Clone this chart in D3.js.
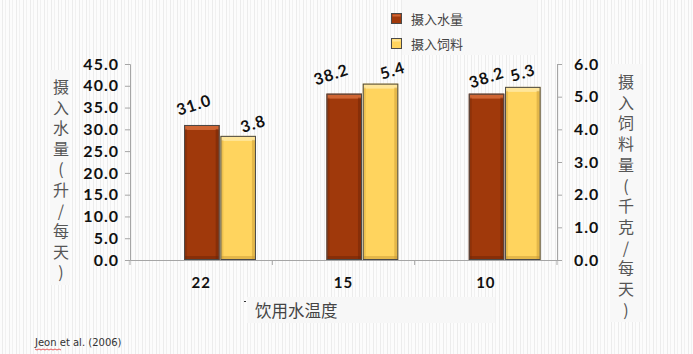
<!DOCTYPE html>
<html><head><meta charset="utf-8">
<script src="https://cdn.jsdelivr.net/npm/d3@7"></script>
<style>
html,body{margin:0;padding:0;background:#fbfbfb;}
svg{display:block;}
</style></head>
<body>
<svg id="c" width="693" height="354"></svg>
<script>
// ---- data ----
const categories = ["22", "15", "10"];
const seriesNames = ["摄入水量", "摄入饲料"];
const waterIntake = [31.0, 38.2, 38.2];   // 升/每天 (left axis)
const feedIntake  = [3.8, 5.4, 5.3];      // 千克/每天 (right axis)
const leftTicks  = [0, 5, 10, 15, 20, 25, 30, 35, 40, 45];
const rightTicks = [0, 1, 2, 3, 4, 5, 6];
const xTitle = "饮用水温度";
const leftTitle = "摄入水量(升/每天)";
const rightTitle = "摄入饲料量(千克/每天)";
const source = "Jeon et al. (2006)";

// ---- layout ----
const svg = d3.select("#c");
const W = 693, H = 354;
const plot = {l:130, r:557, t:64, b:260};
const colors = {
  water:{base:"#a0390b", light:"#cf6533", dark:"#6e2406"},
  feed:{base:"#ffd45e", light:"#ffe69a", dark:"#c99a33"}
};
// label nudges (layout only)
const waterNudge = [-8, -13, 0];
const feedNudge = [15, 12, 0];

// background texture
const defs = svg.append("defs");
const pat = defs.append("pattern").attr("id","tex").attr("patternUnits","userSpaceOnUse")
  .attr("width",7).attr("height",4);
pat.append("rect").attr("width",7).attr("height",4).attr("fill","#fcfcfc");
pat.append("rect").attr("x",2).attr("width",1).attr("height",4).attr("fill","#ececec");
pat.append("rect").attr("x",5).attr("width",1).attr("height",4).attr("fill","#f1f1f1");
svg.append("rect").attr("width",W).attr("height",H).attr("fill","url(#tex)");

const x = d3.scaleBand().domain(categories).range([plot.l, plot.r]);
const bw = x.bandwidth();
const xs = d3.scaleBand().domain(seriesNames).range([bw*0.38, bw*0.885]).paddingInner(0.02);
const yL = d3.scaleLinear().domain([0,45]).range([plot.b, plot.t]);
const yR = d3.scaleLinear().domain([0,6]).range([plot.b, plot.t]);

// light boxes behind titles
svg.append("rect").attr("x",50).attr("y",70).attr("width",20).attr("height",215).attr("fill","#f8f8f8");
svg.append("rect").attr("x",610).attr("y",64).attr("width",32).attr("height",258).attr("fill","#f8f8f8");
svg.append("rect").attr("x",247).attr("y",297).attr("width",248).attr("height",26).attr("fill","#f7f7f7");
svg.append("rect").attr("x",402).attr("y",0).attr("width",135).attr("height",55).attr("fill","#f8f8f8");

const axisColor = "#a6a6a6";
const numFont = "Lato, 'Open Sans', sans-serif";

// left axis
const gL = svg.append("g").attr("transform",`translate(${plot.l},0)`)
  .call(d3.axisLeft(yL).tickValues(leftTicks).tickFormat(d3.format(".1f")).tickSize(5).tickPadding(6));
// right axis
const gR = svg.append("g").attr("transform",`translate(${plot.r},0)`)
  .call(d3.axisRight(yR).tickValues(rightTicks).tickFormat(d3.format(".1f")).tickSize(5).tickPadding(12));
// bottom axis
const gB = svg.append("g").attr("transform",`translate(0,${plot.b})`)
  .call(d3.axisBottom(x).tickSize(0).tickPadding(17));
const edges = categories.map(c=>x(c)).concat([x(categories[categories.length-1])+bw]);
gB.selectAll("line.edge").data(edges).join("line").attr("class","edge")
  .attr("x1",d=>d).attr("x2",d=>d).attr("y1",0).attr("y2",5).attr("stroke",axisColor);

[gL,gR,gB].forEach(g=>{
  g.select(".domain").attr("stroke",axisColor);
  g.selectAll(".tick line").attr("stroke",axisColor);
  g.selectAll(".tick text").attr("fill","#111").style("font-family",numFont)
   .style("font-weight","700").style("font-size","16px").style("letter-spacing","1px");
});
gB.selectAll(".tick text").style("font-size","15px");

// bars
function drawBars(vals, key, yScale, cls){
  const c = colors[key];
  const g = svg.append("g");
  const bars = g.selectAll("g."+cls).data(categories.map((cat,i)=>({cat, v:vals[i], i})))
    .join("g").attr("class",cls);
  const bx = d=>x(d.cat)+xs(key==="water"?seriesNames[0]:seriesNames[1]);
  const w = xs.bandwidth();
  bars.append("rect").attr("x",bx).attr("y",d=>yScale(d.v)).attr("width",w)
    .attr("height",d=>plot.b-yScale(d.v)).attr("fill",c.base);
  bars.append("rect").attr("x",d=>bx(d)+1).attr("y",d=>yScale(d.v)+1).attr("width",w-2).attr("height",4)
    .attr("fill",c.light);
  bars.append("rect").attr("x",d=>bx(d)+w-4).attr("y",d=>yScale(d.v)+4).attr("width",3)
    .attr("height",d=>plot.b-yScale(d.v)-5).attr("fill",c.dark).attr("opacity",0.5);
  bars.append("rect").attr("x",d=>bx(d)+1).attr("y",d=>yScale(d.v)+4).attr("width",2)
    .attr("height",d=>plot.b-yScale(d.v)-5).attr("fill",c.dark).attr("opacity",0.35);
  bars.append("rect").attr("x",d=>bx(d)+1).attr("y",plot.b-4).attr("width",w-2).attr("height",3)
    .attr("fill",c.dark).attr("opacity",0.5);
  bars.append("rect").attr("x",d=>bx(d)+0.5).attr("y",d=>yScale(d.v)+0.5).attr("width",w-1)
    .attr("height",d=>plot.b-yScale(d.v)-1).attr("fill","none").attr("stroke","#4a4a4a").attr("stroke-width",1);
  return {bx, w};
}
const wb = drawBars(waterIntake,"water",yL,"wbar");
const fb = drawBars(feedIntake,"feed",yR,"fbar");

// data labels
function labels(vals, yScale, pos, nudge, up){
  svg.append("g").selectAll("text").data(categories.map((cat,i)=>({cat,v:vals[i],i})))
    .join("text")
    .attr("transform",d=>`translate(${pos.bx(d)+pos.w/2+nudge[d.i]},${yScale(d.v)-up[d.i]}) rotate(-18)`)
    .attr("text-anchor","middle").attr("dy","0.35em")
    .style("font-family",numFont).style("font-weight","700").style("font-size","16px")
    .style("letter-spacing","1px").attr("fill","#111")
    .text(d=>d3.format(".1f")(d.v));
}
labels(waterIntake, yL, wb, waterNudge, [20,19,16]);
labels(feedIntake, yR, fb, feedNudge, [12,13,14]);

// vertical titles (single text, vertical writing mode)
function vtitle(str, cx, yTop, spacing){
  svg.append("text").attr("x",cx).attr("y",yTop)
    .style("writing-mode","vertical-rl").style("text-orientation","upright")
    .style("font-family","'Noto Sans CJK SC', sans-serif").style("font-size","16px")
    .style("letter-spacing",spacing+"px")
    .attr("fill","#555").text(str);
}
vtitle(leftTitle, 61, 79, 4.6);
vtitle(rightTitle, 626, 74, 4.7);

// x title
svg.append("text").attr("x",255).attr("y",311).attr("dy","0.35em")
  .style("font-family","'Noto Sans CJK SC', sans-serif").style("font-size","16.5px")
  .attr("fill","#444").text(xTitle);
svg.append("rect").attr("x",244).attr("y",301).attr("width",2).attr("height",1).attr("fill","#333");

// legend
const lg = svg.append("g");
const legendItems = [{name:seriesNames[0], key:"water"},{name:seriesNames[1], key:"feed"}];
const ly = d3.scalePoint().domain(seriesNames).range([19,44]);
legendItems.forEach(it=>{
  const c = colors[it.key];
  const yy = ly(it.name);
  lg.append("rect").attr("x",391.5).attr("y",yy-5.5).attr("width",10).attr("height",10)
    .attr("fill",c.base).attr("stroke","#4a4a4a");
  lg.append("rect").attr("x",392.5).attr("y",yy-4.5).attr("width",8).attr("height",2).attr("fill",c.light);
  lg.append("text").attr("x",411).attr("y",yy).attr("dy","0.35em")
    .style("font-family","'Noto Sans CJK SC', sans-serif").style("font-size","13px")
    .attr("fill","#444").text(it.name);
});

// source
svg.append("text").attr("x",35).attr("y",342).attr("dy","0.35em")
  .style("font-family","'DejaVu Sans', Verdana, sans-serif").style("font-size","10px")
  .attr("fill","#333").text(source);
const wave = d3.range(0,27,2).map((d,i)=>[35+d, 349 + (i%2?1:0)]);
svg.append("path").attr("d",d3.line()(wave)).attr("fill","none").attr("stroke","#e03030").attr("stroke-width",0.8);
</script>
</body></html>
